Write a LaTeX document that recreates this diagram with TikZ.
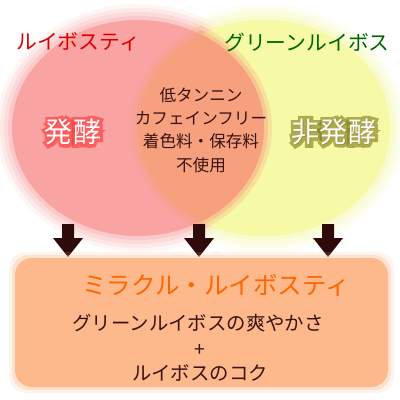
\documentclass[tikz,border=0pt]{standalone}
\usepackage{fontspec}
\newfontfamily\jp{Noto Sans CJK JP}
\newfontfamily\jpglow[FakeBold=22]{Noto Sans CJK JP}
\usetikzlibrary{positioning}
\definecolor{redc}{HTML}{F9A3A3}
\definecolor{yellowc}{HTML}{F6F9A6}
\definecolor{overlapc}{HTML}{F6A07E}
\definecolor{boxc}{HTML}{FDB98C}
\definecolor{arrowc}{HTML}{2E0A0A}
\definecolor{textc}{HTML}{3A1212}
\tikzset{
  heading/.style={font=\jp\fontsize{14.8pt}{16pt}\selectfont, inner sep=0pt},
  keyword/.style={font=\jp\fontsize{20pt}{22pt}\selectfont, inner sep=0pt, text=white},
  glow/.style={font=\jpglow\fontsize{20pt}{22pt}\selectfont, inner sep=0pt, opacity=0.6},
  common/.style={font=\jp\fontsize{11.8pt}{16.6pt}\selectfont, align=center, text=textc, inner sep=0pt},
  miracle/.style={font=\jp\fontsize{17.4pt}{19pt}\selectfont, text=orange!80!red, inner sep=0pt},
  body/.style={font=\jp\fontsize{13.8pt}{15pt}\selectfont, text=textc, inner sep=0pt},
}
\begin{document}
\begin{tikzpicture}[x=0.025cm,y=-0.025cm]
  \fill[white] (0,0) rectangle (400,400);
  \useasboundingbox (0,0) rectangle (400,400);
  % ---- the two circles, soft edges ----
  \foreach \r/\o in {14/0.1,10/0.15,6/0.2,2/0.3,-2/1} {
    \fill[yellowc,opacity=\o] (264,128) ellipse [x radius=128+\r, y radius=110+\r];
    \fill[redc,opacity=\o] (138,128) ellipse [x radius=128+\r, y radius=110+\r];
  }
  \foreach \r/\o in {6/0.25,2/0.4,-2/1} {
    \begin{scope}
      \clip (138,128) ellipse [x radius=128+\r, y radius=110+\r];
      \fill[overlapc,opacity=\o] (264,128) ellipse [x radius=128+\r, y radius=110+\r];
    \end{scope}
  }
  % ---- labels on the circles ----
  \node[heading,text=red!85!black] (rooibos) at (78,42) {ルイボスティ};
  \node[heading,text=green!40!black] (green) at (307,42) {グリーンルイボス};
  \node[glow,text=red!80] (hakko-glow) at (73,132) {発酵};
  \node[glow,text=olive!85!black] (hihakko-glow) at (334,132) {非発酵};
  \node[keyword] (hakko) at (73,132) {発酵};
  \node[keyword] (hihakko) at (334,132) {非発酵};
  \node[common] (both) at (201,130) {低タンニン\\カフェインフリー\\着色料・保存料\\不使用};
  % ---- arrows ----
  \foreach \x in {68,199,328} {
    \fill[arrowc] (\x-6,224) -- (\x+6,224) -- (\x+6,238) -- (\x+15,238)
      -- (\x,257) -- (\x-15,238) -- (\x-6,238) -- cycle;
  }
  % ---- result box ----
  \foreach \r/\o in {6/0.15,3/0.3,0/1} {
    \fill[boxc,opacity=\o,rounded corners=12] (15-\r,258-\r) rectangle (388+\r,387+\r);
  }
  \node[miracle] (title) at (216,285) {ミラクル・ルイボスティ};
  \node[body] (fresh) at (198,323) {グリーンルイボスの爽やかさ};
  \node[body] (plus) at (200,350) {+};
  \node[body] (rich) at (200,373) {ルイボスのコク};
\end{tikzpicture}
\end{document}
